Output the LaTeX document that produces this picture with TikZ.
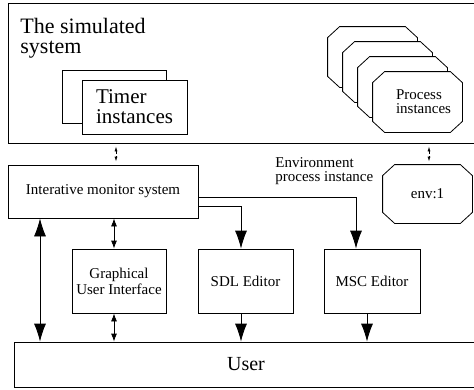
\documentclass[tikz,border=0pt]{standalone}
\usepackage{fontspec}
\setmainfont{Liberation Serif}
\usetikzlibrary{arrows.meta}
\tikzstyle{block} = [draw, fill=white, rectangle, inner sep=0pt,
    align=center, font=\fontsize{15}{16}\selectfont]
\tikzstyle{frame} = [draw, rectangle, inner sep=0pt]
\tikzstyle{slot} = [rectangle, inner sep=0pt, minimum width=89pt, minimum height=60pt]
\tikzstyle{label} = [inner sep=0pt, align=left]
\tikzstyle{flow} = [-{Latex[length=18pt,width=12pt]}]
\tikzstyle{twoway} = [{Latex[length=18pt,width=12pt]}-{Latex[length=18pt,width=12pt]}]
\tikzstyle{duplex} = [{Latex[length=8pt,width=6pt]}-{Latex[length=8pt,width=6pt]}]
\tikzstyle{simlink} = [dash pattern=on 3pt off 2pt,
    {Latex[length=5pt,width=3pt]}-{Latex[length=5pt,width=3pt]},
    shorten >=3pt, shorten <=3pt]
% octagon with cut corners round a named slot
\newcommand{\octagon}[1]{
    \filldraw [fill=white] ([xshift=12pt]#1.north west) -- ([xshift=-12pt]#1.north east)
        -- ([yshift=-11pt]#1.north east) -- ([yshift=11pt]#1.south east)
        -- ([xshift=-12pt]#1.south east) -- ([xshift=12pt]#1.south west)
        -- ([yshift=11pt]#1.south west) -- ([yshift=-11pt]#1.north west) -- cycle;
}

\begin{document}
\begin{tikzpicture}[x=1pt, y=-1pt, line width=0.8pt]
    \clip (0,0) rectangle (474,389);
    % The simulated system with its timers and processes
    \node [frame, minimum width=470pt, minimum height=140pt] (sim) at (243,73) {};
    \node [label, anchor=north west, font=\fontsize{22}{20}\selectfont] (title)
        at (20,18) {The simulated\\system};
    \node [block, minimum width=104pt, minimum height=53pt] (timerback) at (114,96.5) {};
    \node [block, minimum width=105pt, minimum height=54pt, align=left,
        font=\fontsize{21}{20}\selectfont] (timer) at (134.5,107) {Timer\\instances};
    \node [slot] (proc4) at (372.5,57) {};
    \node [slot] (proc3) at (387.5,72) {};
    \node [slot] (proc2) at (402.5,87) {};
    \node [slot] (proc1) at (417.5,102) {};
    \octagon{proc4}
    \octagon{proc3}
    \octagon{proc2}
    \octagon{proc1}
    \node [label, font=\fontsize{15}{14}\selectfont] (proctext)
        at ([xshift=6pt]proc1.center) {Process\\instances};

    % The tools around the monitor
    \node [block, minimum width=190pt, minimum height=53pt] (monitor)
        at (103,191.5) {Interative monitor system};
    \node [label, anchor=north west, font=\fontsize{15}{14}\selectfont] (envlabel)
        at (275,157) {Environment\\process instance};
    \node [slot, minimum height=58pt] (env) at (427.5,194) {};
    \octagon{env}
    \node [label, font=\fontsize{15}{16}\selectfont] (envtext) at (env.center) {env:1};
    \node [block, minimum width=94pt, minimum height=64pt] (gui) at (119,281)
        {Graphical\\User Interface};
    \node [block, minimum width=95pt, minimum height=64pt] (sdl) at (245.5,281) {SDL Editor};
    \node [block, minimum width=96pt, minimum height=64pt] (msc) at (372,281) {MSC Editor};
    \node [block, minimum width=464pt, minimum height=45pt,
        font=\fontsize{20}{22}\selectfont] (user) at (246,364.5) {User};

    % Lanes for the vertical connectors
    \coordinate (leftlane) at (40,0);
    \coordinate (guilane) at (114,0);
    \coordinate (simlane) at (116,0);
    \coordinate (envlane) at (429,0);
    \coordinate (sdllane) at (241,0);
    \coordinate (msclane) at (356,0);
    \coordinate (outlane) at (367,0);

    \draw [simlink] (sim.south -| simlane) -- (monitor.north -| simlane);
    \draw [simlink] (sim.south -| envlane) -- (env.north -| envlane);
    \draw [twoway] (monitor.south -| leftlane) -- (user.north -| leftlane);
    \draw [duplex] (monitor.south -| guilane) -- (gui.north -| guilane);
    \draw [duplex] (gui.south -| guilane) -- (user.north -| guilane);
    \draw [flow] ([yshift=-14.5pt]monitor.east) -| (sdl.north -| sdllane);
    \draw [flow] ([yshift=-5.5pt]monitor.east) -| (msc.north -| msclane);
    \draw [flow] (sdl.south -| sdllane) -- (user.north -| sdllane);
    \draw [flow] (msc.south -| outlane) -- (user.north -| outlane);
\end{tikzpicture}
\end{document}
